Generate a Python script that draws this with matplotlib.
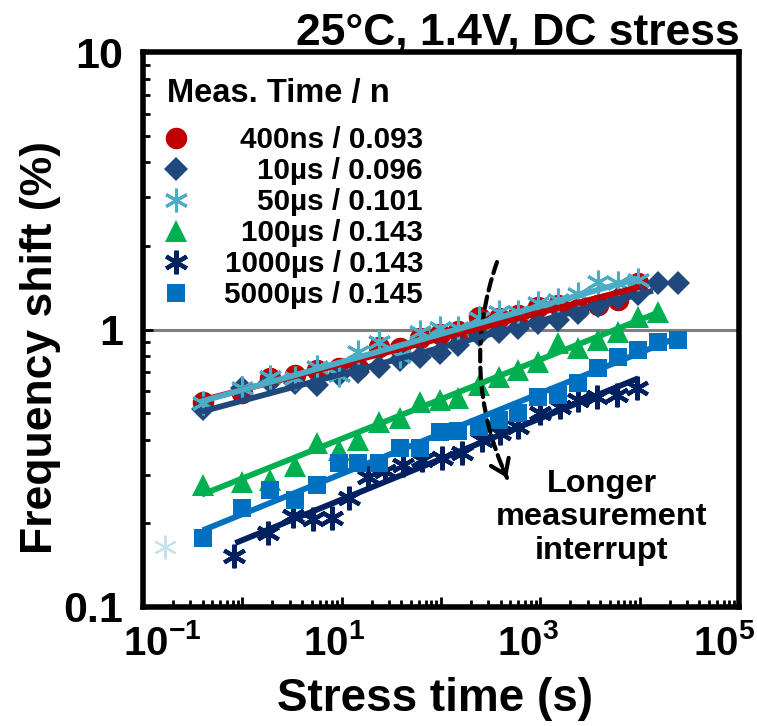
import matplotlib
matplotlib.use("Agg")
import matplotlib.pyplot as plt
from matplotlib import font_manager
from matplotlib.ticker import LogLocator, NullFormatter, FixedLocator, FixedFormatter

# --- data (stress time in s, frequency shift in %) ---
t_grid = [0.4, 1, 1.9, 3.4, 5.7, 9.3, 14.7, 23.5, 38.5, 61, 98, 150, 242, 380,
          600, 950, 1510, 2410, 3840, 6100, 9700, 15400, 24500]

t_400ns = t_grid[:21]
y_400ns = [0.550, 0.589, 0.667, 0.686, 0.714, 0.725, 0.725, 0.867, 0.855, 0.929, 0.965,
           0.99, 1.112, 1.10, 1.128, 1.208, 1.225, 1.19, 1.225, 1.276, 1.466]

t_10us = t_grid[:23]
y_10us = [0.518, 0.614, 0.649, 0.64, 0.631, 0.686, 0.703, 0.734, 0.776, 0.798, 0.82,
          0.880, 0.955, 0.982, 1.01, 1.052, 1.081, 1.15, 1.22, 1.30, 1.348, 1.466, 1.466]

t_50us = t_grid[:21]
y_50us = [0.543, 0.614, 0.676, 0.667, 0.734, 0.686, 0.832, 0.904, 0.80, 0.982, 1.01,
          1.01, 1.096, 1.159, 1.159, 1.242, 1.276, 1.348, 1.486, 1.466, 1.507]

t_100us = t_grid[:22]
y_100us = [0.275, 0.283, 0.287, 0.321, 0.389, 0.368, 0.400, 0.466, 0.478, 0.55, 0.557,
           0.566, 0.631, 0.676, 0.714, 0.765, 0.894, 0.857, 0.916, 0.982, 1.112, 1.159]

t_1000us = [0.83, 1.82, 3.26, 5.18, 7.94, 11.9, 18.5, 27.3, 41.8, 64, 102, 162, 257,
            393, 600, 993, 1578, 2410, 3695, 5870, 9330]
y_1000us = [0.153, 0.185, 0.212, 0.207, 0.209, 0.247, 0.295, 0.308, 0.325, 0.339, 0.345,
            0.358, 0.400, 0.423, 0.447, 0.499, 0.527, 0.557, 0.573, 0.581, 0.614]

t_5000us = t_grid[:23]
y_5000us = [0.177, 0.227, 0.265, 0.243, 0.275, 0.330, 0.330, 0.330, 0.373, 0.373, 0.427,
            0.429, 0.447, 0.472, 0.499, 0.573, 0.581, 0.640, 0.725, 0.798, 0.843, 0.904, 0.916]

# faded outlier point near the origin
t_faded = [0.167]
y_faded = [0.164]

# power-law fit lines, end points (t, y)
fit_t = [[0.40, 10100], [0.39, 13600], [0.37, 10100], [0.39, 15400], [0.85, 9680], [0.40, 24800]]
fit_y = [[0.557, 1.426], [0.506, 1.380], [0.548, 1.534], [0.254, 1.152], [0.170, 0.667], [0.189, 0.940]]

labels = ["400ns / 0.093", "10\u00b5s / 0.096", "50\u00b5s / 0.101",
          "100\u00b5s / 0.143", "1000\u00b5s / 0.143", "5000\u00b5s / 0.145"]

x_ticklabels = [r"$10^{-1}$", r"$10^{1}$", r"$10^{3}$", r"$10^{5}$"]

series_t = [t_400ns, t_10us, t_50us, t_100us, t_1000us, t_5000us]
series_y = [y_400ns, y_10us, y_50us, y_100us, y_1000us, y_5000us]

colors = ["#C00000", "#1F497D", "#4BACC6", "#00B050", "#002060", "#0070C0"]
markers = ["o", "D", (6, 2, 0), "^", (6, 2, 0), "s"]
msizes = [15.5, 12.5, 17, 16.5, 17, 13.5]
mews = [0, 0, 2.2, 0, 3.0, 0]

# --- fonts ---
names = {f.name for f in font_manager.fontManager.ttflist}
narrow = "Liberation Sans Narrow" if "Liberation Sans Narrow" in names else "Liberation Sans"

plt.rcParams["font.family"] = ["Liberation Sans", "DejaVu Sans"]
plt.rcParams["font.weight"] = "bold"
plt.rcParams["mathtext.fontset"] = "custom"
plt.rcParams["mathtext.rm"] = narrow + ":bold"
plt.rcParams["mathtext.it"] = narrow + ":bold"
plt.rcParams["mathtext.bf"] = narrow + ":bold"
plt.rcParams["mathtext.default"] = "rm"

fig = plt.figure(figsize=(7.57, 7.26), dpi=100)
ax = fig.add_axes([143 / 757, 119 / 726, 596 / 757, 555 / 726])

ax.axhline(1, color="#808080", lw=2.2, zorder=1)

for t, y, c, m, ms, mew in zip(series_t, series_y, colors, markers, msizes, mews):
    ax.plot(t, y, ls="none", marker=m, ms=ms, color=c, mec=c, mew=mew, zorder=3)

ax.plot(t_faded, y_faded, ls="none", marker=(6, 2, 0), ms=17, mew=1.5,
        color="#C5E3EC", zorder=3)

for ft, fy, c in zip(fit_t, fit_y, colors):
    ax.plot(ft, fy, color=c, lw=4.2, solid_capstyle="butt", zorder=4)

ax.set_xscale("log")
ax.set_yscale("log")
ax.set_xlim(0.1, 1e5)
ax.set_ylim(0.1, 10)

ax.xaxis.set_major_locator(LogLocator(base=10, numticks=20))
ax.xaxis.set_minor_locator(LogLocator(base=10, subs=range(2, 10), numticks=100))
ax.xaxis.set_major_formatter(NullFormatter())
ax.xaxis.set_minor_formatter(NullFormatter())

ax.yaxis.set_major_locator(FixedLocator([0.1, 1, 10]))
ax.yaxis.set_major_formatter(FixedFormatter(["0.1", "1", "10"]))
ax.yaxis.set_minor_locator(LogLocator(base=10, subs=range(2, 10), numticks=100))
ax.yaxis.set_minor_formatter(NullFormatter())

for s in ax.spines.values():
    s.set_linewidth(4)
ax.tick_params(which="both", direction="in", top=False, right=False, width=2)
ax.tick_params(which="major", length=7)
ax.tick_params(which="minor", length=5)
ax.tick_params(axis="y", which="major", labelsize=31, pad=14)

# x tick labels sit slightly left of their ticks in the original
for xf, lab in zip([-0.0336, 0.2685, 0.594, 0.923], x_ticklabels):
    ax.text(xf, -0.0865, lab, transform=ax.transAxes, ha="left", va="baseline",
            fontsize=29)

ax.set_xlabel("Stress time (s)", fontsize=33, fontweight="bold")
ax.xaxis.set_label_coords(0.49, -0.126)
ax.set_ylabel("Frequency shift (%)", fontsize=32, fontweight="bold")
ax.yaxis.set_label_coords(-0.137, 0.468)

fig.text(740 / 757, (726 - 45) / 726, "25\u00b0C, 1.4V, DC stress", ha="right",
         va="baseline", fontsize=32, fontweight="bold")

# legend drawn by hand (right aligned texts)
ax.text(0.0403, (607 - 101.7) / 555, "Meas. Time / n", transform=ax.transAxes,
        ha="left", va="baseline", fontsize=23.5, fontweight="bold")
for i, (lab, c, m, ms, mew) in enumerate(zip(labels, colors, markers, msizes, mews)):
    base = 148.3 + 31 * i
    ax.plot([0.0554], [(607 - base + 10) / 555], ls="none", marker=m, ms=ms, color=c,
            mec=c, mew=mew, transform=ax.transAxes, clip_on=False, zorder=5)
    ax.text(0.470, (607 - base) / 555, lab, transform=ax.transAxes, ha="right",
            va="baseline", fontsize=21.3, fontweight="bold")

# dashed curved arrow
start = (366, 1.75)
end = (462, 0.292)
ax.annotate("", xy=end, xytext=start,
            arrowprops=dict(arrowstyle="-", linestyle=(0, (2.8, 1.5)), lw=3,
                            color="black", capstyle="round",
                            connectionstyle="arc3,rad=0.2", shrinkA=0, shrinkB=0))
ax.annotate("", xy=end, xytext=(-3.0, 6.6), textcoords="offset points",
            arrowprops=dict(arrowstyle="->,head_length=0.5,head_width=0.35", lw=3,
                            color="black", shrinkA=0, shrinkB=0, mutation_scale=20))

ax.text(0.770, 0.162, "Longer\nmeasurement\ninterrupt", transform=ax.transAxes,
        ha="center", va="center", multialignment="center", fontsize=23.4,
        fontweight="bold", linespacing=1.15)

fig.savefig("out.png", dpi=100)
